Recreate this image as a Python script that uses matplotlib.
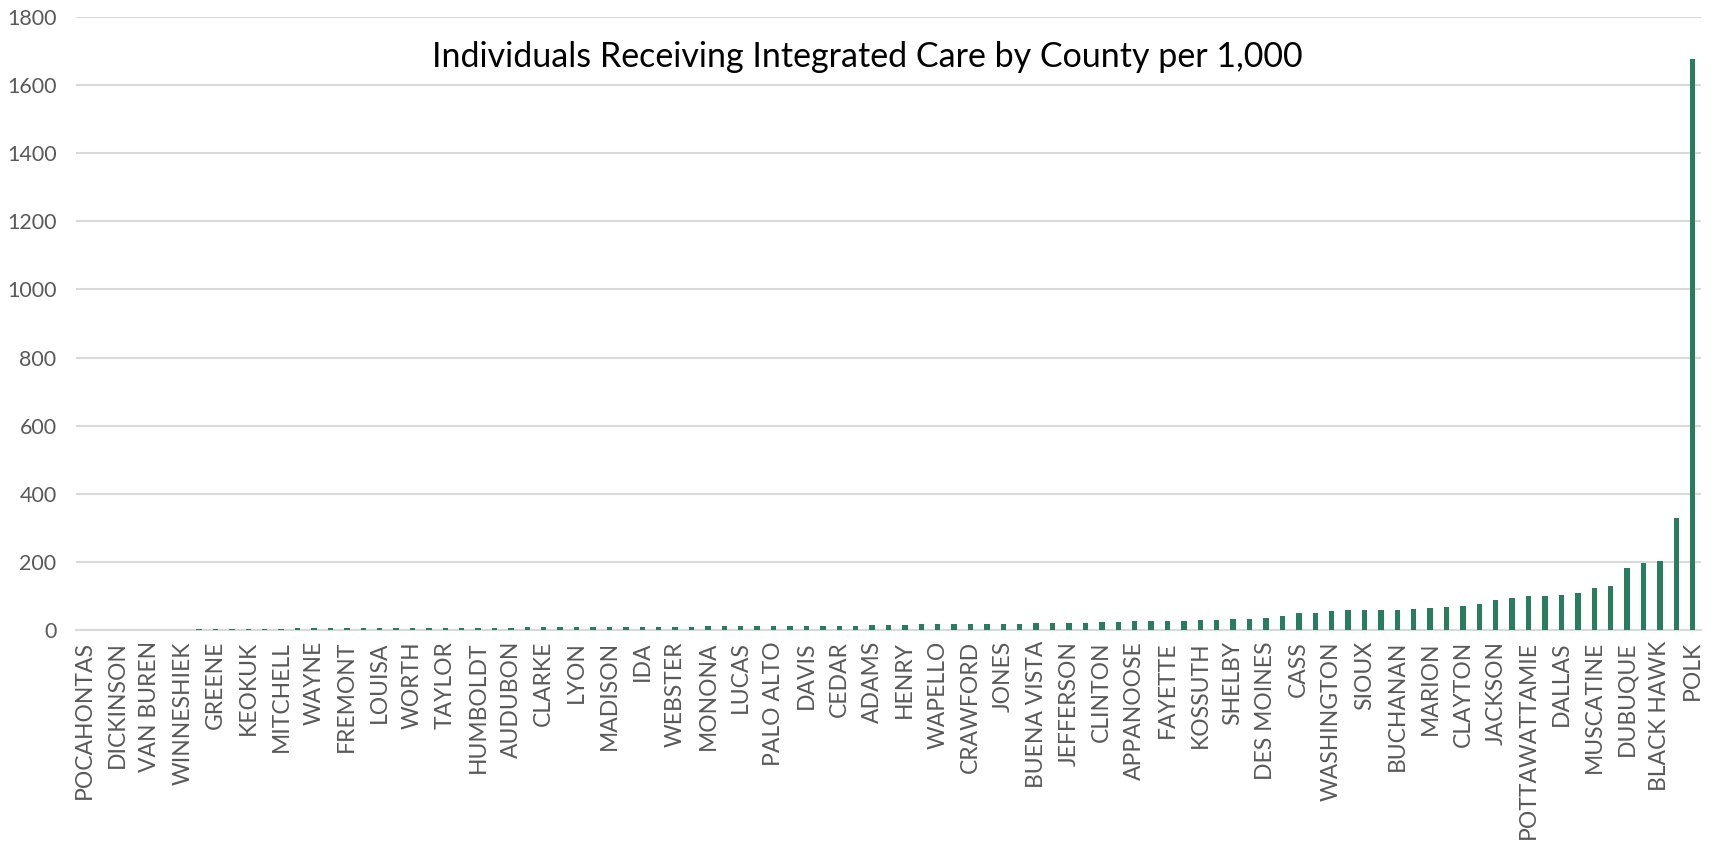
import matplotlib
matplotlib.use("Agg")
import matplotlib.pyplot as plt
import numpy as np

plt.rcParams['font.family'] = ['Lato', 'DejaVu Sans']

# every other county is labelled on the axis (sorted ascending)
labels = ["POCAHONTAS", "DICKINSON", "VAN BUREN", "WINNESHIEK", "GREENE", "KEOKUK",
          "MITCHELL", "WAYNE", "FREMONT", "LOUISA", "WORTH", "TAYLOR", "HUMBOLDT",
          "AUDUBON", "CLARKE", "LYON", "MADISON", "IDA", "WEBSTER", "MONONA", "LUCAS",
          "PALO ALTO", "DAVIS", "CEDAR", "ADAMS", "HENRY", "WAPELLO", "CRAWFORD",
          "JONES", "BUENA VISTA", "JEFFERSON", "CLINTON", "APPANOOSE", "FAYETTE",
          "KOSSUTH", "SHELBY", "DES MOINES", "CASS", "WASHINGTON", "SIOUX",
          "BUCHANAN", "MARION", "CLAYTON", "JACKSON", "POTTAWATTAMIE", "DALLAS",
          "MUSCATINE", "DUBUQUE", "BLACK HAWK", "POLK"]

# values per 1,000 for all 99 counties
values = [0, 0, 0, 0, 1, 1, 1,
          3, 3, 3, 3, 3, 3,
          5, 5, 5, 5, 5, 5, 5,
          7, 7, 7, 7, 7, 7, 7,
          9, 9,
          10, 10, 10, 10, 10, 10, 10, 10, 10,
          11, 11, 11, 11,
          13, 13, 13, 13, 13, 13,
          14, 16, 16, 17,
          19, 19, 19, 19, 19, 19,
          21, 21, 21, 21,
          23, 23, 25, 27, 27, 27, 28, 30, 32, 32,
          34, 42, 49, 49, 55, 60, 60, 60, 60, 62, 64, 67, 71, 76,
          87, 93, 99, 99, 103, 108, 124, 128, 182, 198, 203, 328, 1677]

green = "#287d5e"
grid = "#d9d9d9"
txt = "#595959"

fig = plt.figure(figsize=(17.15, 8.47), dpi=100)
ax = fig.add_axes([0.0443, 0.2562, 0.9475, 0.7238])

x = np.arange(len(values))
ax.bar(x, values, width=0.33, color=green, zorder=3)

ax.set_xlim(-0.5, len(values) - 0.5)
ax.set_ylim(0, 1800)
ax.set_yticks(range(0, 1801, 200))
ax.yaxis.grid(True, color=grid, linewidth=1.5, zorder=0)
ax.set_xticks(x[::2])
ax.set_xticklabels(labels, rotation=90, fontsize=16.5, color=txt)
ax.tick_params(axis='y', labelsize=15.5, labelcolor=txt, length=0, pad=14)
ax.tick_params(axis='x', length=0, pad=8)
for s in ['top', 'right', 'left']:
    ax.spines[s].set_visible(False)
ax.spines['bottom'].set_color(grid)
ax.spines['bottom'].set_linewidth(1.5)

fig.text(0.5055, 0.933, "Individuals Receiving Integrated Care by County per 1,000",
         ha='center', va='center', fontsize=24.5, color='black')

fig.savefig("out.png", dpi=100)
